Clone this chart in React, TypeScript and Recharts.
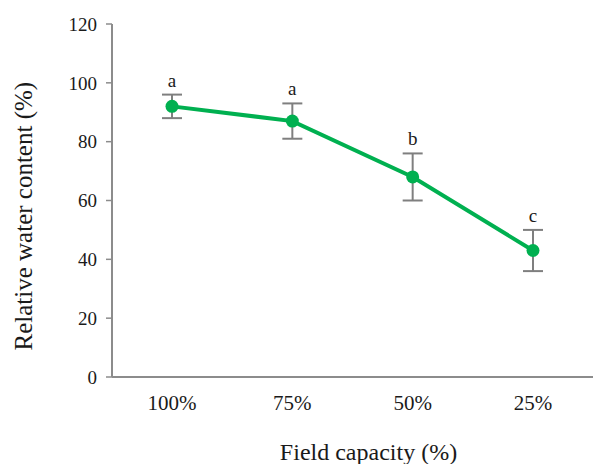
import { LineChart, Line, XAxis, YAxis, ErrorBar, LabelList } from 'recharts';

const capacities = ['100%', '75%', '50%', '25%'];
const waterContent = [92, 87, 68, 43];
const errors = [4, 6, 8, 7];
const letters = ['a', 'a', 'b', 'c'];
const yTicks = [0, 20, 40, 60, 80, 100, 120];

const data = capacities.map((c, i) => ({
  name: c,
  rwc: waterContent[i],
  err: errors[i],
  top: waterContent[i] + errors[i],
  letter: letters[i],
}));

const font = '"Liberation Serif", "Times New Roman", serif';

export default function App() {
  return (
    <div style={{ position: 'absolute', left: 0, top: 0, background: '#fff' }}>
      <LineChart
        width={593}
        height={464}
        data={data}
        margin={{ top: 24, right: 0, left: 0, bottom: 0 }}
      >
        <XAxis
          dataKey="name"
          padding={{ left: 60, right: 60 }}
          axisLine={{ stroke: '#8c8c8c', strokeWidth: 2 }}
          tickLine={false}
          tick={{ fill: '#1a1a1a', fontSize: 21, fontFamily: font }}
          tickMargin={12}
          height={87}
          label={{
            value: 'Field capacity (%)',
            position: 'insideBottom',
            offset: 4,
            dx: 16,
            style: { fill: '#1a1a1a', fontSize: 24, fontFamily: font },
          }}
        />
        <YAxis
          domain={[0, 120]}
          ticks={yTicks}
          width={112}
          axisLine={{ stroke: '#8c8c8c', strokeWidth: 2 }}
          tickLine={{ stroke: '#8c8c8c', strokeWidth: 1.5 }}
          tickSize={6}
          tickMargin={9}
          tick={{ fill: '#1a1a1a', fontSize: 19, fontFamily: font }}
          label={{
            value: 'Relative water content (%)',
            angle: -90,
            position: 'insideLeft',
            offset: 23,
            dy: 150,
            style: { fill: '#1a1a1a', fontSize: 25, fontFamily: font },
          }}
        />
        <Line
          dataKey="rwc"
          stroke="#00b050"
          strokeWidth={4}
          dot={{ r: 6.5, fill: '#00b050', stroke: '#00b050', strokeWidth: 0 }}
          isAnimationActive={false}
        >
          <ErrorBar dataKey="err" width={10} stroke="#7f7f7f" strokeWidth={2} direction="y" />
        </Line>
        <Line
          dataKey="top"
          stroke="none"
          dot={false}
          activeDot={false}
          isAnimationActive={false}
        >
          <LabelList
            dataKey="letter"
            position="top"
            offset={8}
            style={{ fill: '#1a1a1a', fontSize: 19, fontFamily: font }}
          />
        </Line>
      </LineChart>
    </div>
  );
}
